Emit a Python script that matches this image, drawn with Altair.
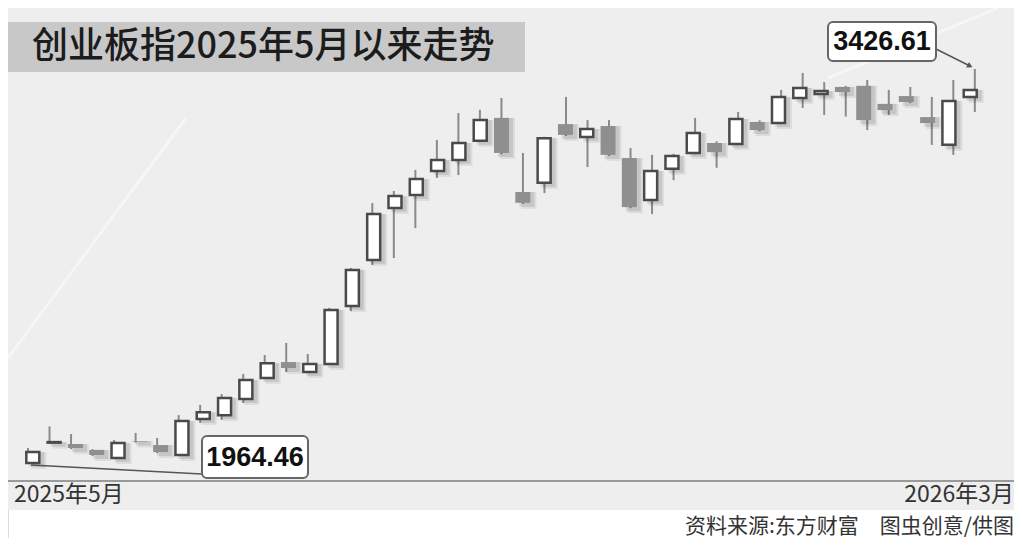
import altair as alt
import pandas as pd

# weekly candles of 创业板指, May 2025 -> Mar 2026
opens = [1964.46, 2040, 2035, 2013, 1983, 2046, 2031, 1994, 2128, 2142,
         2202, 2280, 2339, 2302, 2332, 2547, 2718, 2911, 2959, 3048,
         3089, 3160, 3245, 2970, 3004, 3222, 3174, 3215, 3096, 2940,
         3056, 3115, 3152, 3148, 3230, 3226, 3319, 3334, 3360, 3364,
         3297, 3326, 3248, 3145, 3323]
closes = [2005, 2042, 2020, 1994, 2039, 2044, 2005, 2120, 2153, 2206,
          2272, 2335, 2317, 2332, 2532, 2681, 2888, 2955, 3018, 3089,
          3152, 3237, 3115, 2930, 3170, 3182, 3204, 3108, 2914, 3048,
          3104, 3189, 3118, 3241, 3200, 3323, 3356, 3345, 3341, 3237,
          3274, 3304, 3226, 3308, 3349]
highs = [2020, 2100, 2072, 2016, 2050, 2076, 2057, 2142, 2180, 2220,
         2295, 2365, 2410, 2369, 2540, 2688, 2929, 2974, 3052, 3163,
         3263, 3275, 3319, 3115, 3175, 3323, 3237, 3237, 3133, 3108,
         3112, 3245, 3158, 3267, 3236, 3349, 3412, 3378, 3364, 3386,
         3349, 3360, 3323, 3386, 3426.61]
lows = [1964.46, 2036, 2016, 1990, 1980, 2040, 2001, 1990, 2113, 2124,
        2187, 2276, 2302, 2298, 2328, 2528, 2699, 2725, 2836, 3022,
        3033, 3155, 3110, 2926, 2966, 3178, 3063, 3104, 2910, 2888,
        3014, 3110, 3060, 3144, 3196, 3222, 3282, 3256, 3250, 3200,
        3256, 3300, 3145, 3108, 3267]
weeks = list(range(len(opens)))

title_text = "创业板指2025年5月以来走势"
start_label = "2025年5月"
end_label = "2026年3月"
source_text = "资料来源:东方财富　图虫创意/供图"
low_label = "1964.46"
high_label = "3426.61"

df = pd.DataFrame({"week": weeks, "open": opens, "close": closes,
                   "high": highs, "low": lows})
df["blo"] = df[["open", "close"]].min(axis=1)
df["bhi"] = df[["open", "close"]].max(axis=1)
df["up"] = df["close"] >= df["open"]

W, H = 1006, 530
one = pd.DataFrame({"a": [0]})

xs = alt.Scale(domain=[-0.93, 45.82], nice=False, zero=False)
ys = alt.Scale(domain=[1686.1, 3652.9], nice=False, zero=False)
X = alt.X("week:Q", scale=xs, axis=None)

CJK = "Noto Sans CJK SC"
NUM = "Liberation Sans, Arial, sans-serif"

bg = alt.Chart(one).mark_rect(color="#eeeeee").encode(
    x=alt.value(0), x2=alt.value(W), y=alt.value(-8), y2=alt.value(502))

deco_df = pd.DataFrame({
    "x": [0, 820],
    "y": [350, 70],
    "x2": [178, 990],
    "y2": [110, 0],
})
deco = alt.Chart(deco_df).mark_rule(color="white", opacity=0.45, strokeWidth=3).encode(
    x=alt.X("x:Q", scale=alt.Scale(domain=[0, W], range=[0, W]), axis=None),
    x2="x2:Q",
    y=alt.Y("y:Q", scale=alt.Scale(domain=[0, H], range=[0, H]), axis=None),
    y2="y2:Q")

band = alt.Chart(one).mark_rect(color="#c8c8c8").encode(
    x=alt.value(-8), x2=alt.value(517), y=alt.value(14), y2=alt.value(64))
title = alt.Chart(one).mark_text(
    text=title_text, font=CJK, fontSize=36, fontWeight=500, color="#1c1c1c",
    align="left", baseline="middle").encode(x=alt.value(24), y=alt.value(39))

base = alt.Chart(df)
wicks = base.mark_rule(color="#8a8a8a", strokeWidth=2).encode(
    x=X, y=alt.Y("low:Q", scale=ys, axis=None), y2="high:Q")
shadow1 = base.mark_bar(size=15, color="#000000", opacity=0.10, xOffset=4, yOffset=4).encode(
    x=X, y=alt.Y("blo:Q", scale=ys, axis=None), y2="bhi:Q")
shadow2 = base.mark_bar(size=15, color="#000000", opacity=0.07, xOffset=6, yOffset=6).encode(
    x=X, y=alt.Y("blo:Q", scale=ys, axis=None), y2="bhi:Q")
down = base.transform_filter("!datum.up").mark_bar(size=15, color="#8f8f8f").encode(
    x=X, y=alt.Y("blo:Q", scale=ys, axis=None), y2="bhi:Q")
up = base.transform_filter("datum.up").mark_bar(
    size=13, fill="white", stroke="#4a4a4a", strokeWidth=2.5).encode(
    x=X, y=alt.Y("blo:Q", scale=ys, axis=None), y2="bhi:Q")

axis_line = alt.Chart(one).mark_rule(color="#9a9a9a", strokeWidth=2).encode(
    x=alt.value(0), x2=alt.value(W), y=alt.value(473))
lab_start = alt.Chart(one).mark_text(
    text=start_label, font=CJK, fontSize=23, color="#333333", align="left",
    baseline="middle").encode(x=alt.value(6), y=alt.value(487))
lab_end = alt.Chart(one).mark_text(
    text=end_label, font=CJK, fontSize=23, color="#333333", align="right",
    baseline="middle").encode(x=alt.value(W), y=alt.value(487))
src = alt.Chart(one).mark_text(
    text=source_text, font=CJK, fontSize=21, color="#333333", align="right",
    baseline="middle").encode(x=alt.value(W), y=alt.value(519))

# callouts
line_low = alt.Chart(one).mark_rule(color="#555555", strokeWidth=1.5).encode(
    x=alt.value(23), y=alt.value(457), x2=alt.value(194), y2=alt.value(466))
box_low = alt.Chart(one).mark_rect(
    fill="white", stroke="#666666", strokeWidth=2, cornerRadius=5).encode(
    x=alt.value(194), x2=alt.value(300), y=alt.value(428), y2=alt.value(470))
txt_low = alt.Chart(one).mark_text(
    text=low_label, font=NUM, fontSize=27, fontWeight="bold", color="#111111",
    align="center", baseline="middle").encode(x=alt.value(247), y=alt.value(450))

line_high = alt.Chart(one).mark_rule(color="#555555", strokeWidth=1.5).encode(
    x=alt.value(928), y=alt.value(41), x2=alt.value(960), y2=alt.value(57))
arrow_high = alt.Chart(one).mark_point(
    shape="triangle-right", filled=True, color="#555555", size=40, angle=27,
    opacity=1).encode(x=alt.value(962), y=alt.value(58))
box_high = alt.Chart(one).mark_rect(
    fill="white", stroke="#666666", strokeWidth=2, cornerRadius=5).encode(
    x=alt.value(820), x2=alt.value(928), y=alt.value(14), y2=alt.value(53))
txt_high = alt.Chart(one).mark_text(
    text=high_label, font=NUM, fontSize=27, fontWeight="bold", color="#111111",
    align="center", baseline="middle").encode(x=alt.value(874), y=alt.value(34))

chart = alt.layer(
    bg, deco, band, title, wicks, shadow2, shadow1, down, up,
    axis_line, lab_start, lab_end, src,
    line_low, box_low, txt_low, line_high, arrow_high, box_high, txt_high,
).resolve_scale(x="independent", y="independent").properties(
    width=W, height=H, padding=0,
    autosize=alt.AutoSizeParams(type="none"),
).configure_view(stroke=None).configure(background="white")

chart.save("out.html", embed_options={"renderer": "svg", "actions": False})
